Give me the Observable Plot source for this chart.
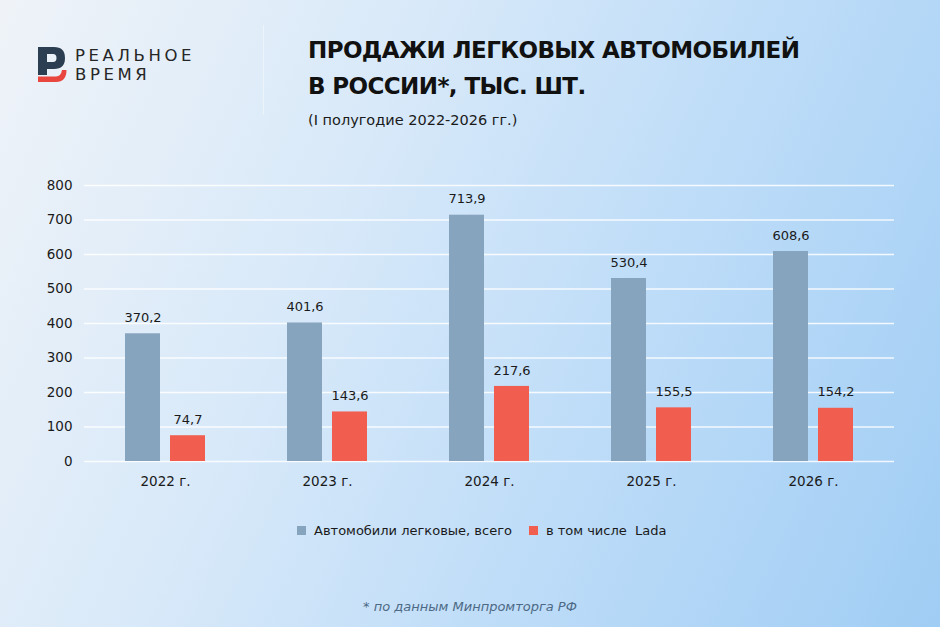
<!DOCTYPE html>
<html>
<head>
<meta charset="utf-8">
<script src="https://cdn.jsdelivr.net/npm/d3@7"></script>
<script src="https://cdn.jsdelivr.net/npm/@observablehq/plot@0.6"></script>
<style>
  html, body { margin: 0; padding: 0; }
  #page {
    position: relative; width: 940px; height: 627px; overflow: hidden;
    background: linear-gradient(115deg, #eff3f8 0%, #d8e9f9 35%, #bddcf8 65%, #a0cdf4 100%);
    font-family: "DejaVu Sans", sans-serif; color: #1a1a1a;
  }
  .abs { position: absolute; white-space: nowrap; }
  #brand1, #brand2 { left: 75px; font-size: 16.5px; letter-spacing: 3.6px; color: #262626; line-height: 17px; height: 17px; }
  #brand1 { top: 47px; }
  #brand2 { top: 66px; }
  #divider { left: 263px; top: 25px; width: 1px; height: 90px; background: rgba(255,255,255,0.4); }
  #title { left: 308px; top: 32px; font-size: 23px; letter-spacing: -0.6px; font-weight: bold; line-height: 36px; color: #111; }
  #subtitle { left: 308px; top: 112px; font-size: 14.5px; color: #1a1a1a; }
  #chart { left: 0; top: 160px; }
  #legend { left: 297px; top: 523px; font-size: 13px; color: #1a1a1a; display: flex; align-items: center; }
  .sw { display: inline-block; width: 9px; height: 9px; margin-right: 8px; }
  .item { display: inline-flex; align-items: center; margin-right: 17px; }
  #note { left: 0; width: 940px; text-align: center; top: 599px; font-size: 13px; font-style: italic; color: #4d6985; }
</style>
</head>
<body>
<div id="page">
  <svg class="abs" style="left:0;top:0" width="80" height="100" viewBox="0 0 80 100">
    <path fill="#2c3e52" fill-rule="evenodd"
      d="M38 47 H54 Q65 47 65 58 Q65 69 54 69 H47 V75 H38 Z M47 54 V62 H53 Q56.5 62 56.5 58 Q56.5 54 53 54 Z"/>
    <path fill="#e8463e" d="M38 76.5 H56 Q61 76.5 62 70 L66.5 70 Q66.5 82 56 82 H38 Z"/>
  </svg>
  <div id="brand1" class="abs">РЕАЛЬНОЕ</div>
  <div id="brand2" class="abs">ВРЕМЯ</div>
  <div id="divider" class="abs"></div>
  <div id="title" class="abs">ПРОДАЖИ ЛЕГКОВЫХ АВТОМОБИЛЕЙ<br>В РОССИИ*, ТЫС. ШТ.</div>
  <div id="subtitle" class="abs">(I полугодие 2022-2026 гг.)</div>
  <div id="chart" class="abs"></div>
  <div id="legend" class="abs"></div>
  <div id="note" class="abs">* по данным Минпромторга РФ</div>
</div>
<script>
const years = ["2022 г.", "2023 г.", "2024 г.", "2025 г.", "2026 г."];
const series = ["Автомобили легковые, всего", "в том числе  Lada"];
const totals = [370.2, 401.6, 713.9, 530.4, 608.6];
const lada = [74.7, 143.6, 217.6, 155.5, 154.2];
const yTicks = [0, 100, 200, 300, 400, 500, 600, 700, 800];
const colors = ["#87a4bf", "#f15d4f"];

const rows = years.flatMap((y, i) => [
  {year: y, series: series[0], value: totals[i]},
  {year: y, series: series[1], value: lada[i]}
]);
const fmt = v => String(v).replace(".", ",");

const chart = Plot.plot({
  width: 940,
  height: 345,
  marginLeft: 83,
  marginRight: 46,
  marginTop: 25,
  marginBottom: 44,
  style: {fontFamily: "DejaVu Sans", fontSize: "13.5px", color: "#1a1a1a", background: "transparent", overflow: "visible"},
  fx: {domain: years, padding: 0, label: null, axis: "bottom", tickSize: 0, tickPadding: 15},
  x: {domain: series, paddingInner: 0.217, paddingOuter: 0.87, axis: null},
  y: {domain: [0, 800], ticks: yTicks, tickSize: 0, tickPadding: 12, label: null},
  color: {domain: series, range: colors},
  marks: [
    Plot.ruleY(yTicks, {stroke: "white", strokeWidth: 1.6, strokeOpacity: 0.85}),
    Plot.barY(rows, {fx: "year", x: "series", y: "value", fill: "series"}),
    Plot.text(rows, {fx: "year", x: "series", y: "value", text: d => fmt(d.value), dy: -16, fill: "#1a1a1a", fontSize: 13})
  ]
});
document.getElementById("chart").appendChild(chart);

const legend = document.getElementById("legend");
series.forEach((s, i) => {
  const it = document.createElement("span");
  it.className = "item";
  const sw = document.createElement("span");
  sw.className = "sw";
  sw.style.background = colors[i];
  const t = document.createElement("span");
  t.textContent = s;
  t.style.whiteSpace = "pre";
  it.appendChild(sw); it.appendChild(t);
  legend.appendChild(it);
});
</script>
</body>
</html>
